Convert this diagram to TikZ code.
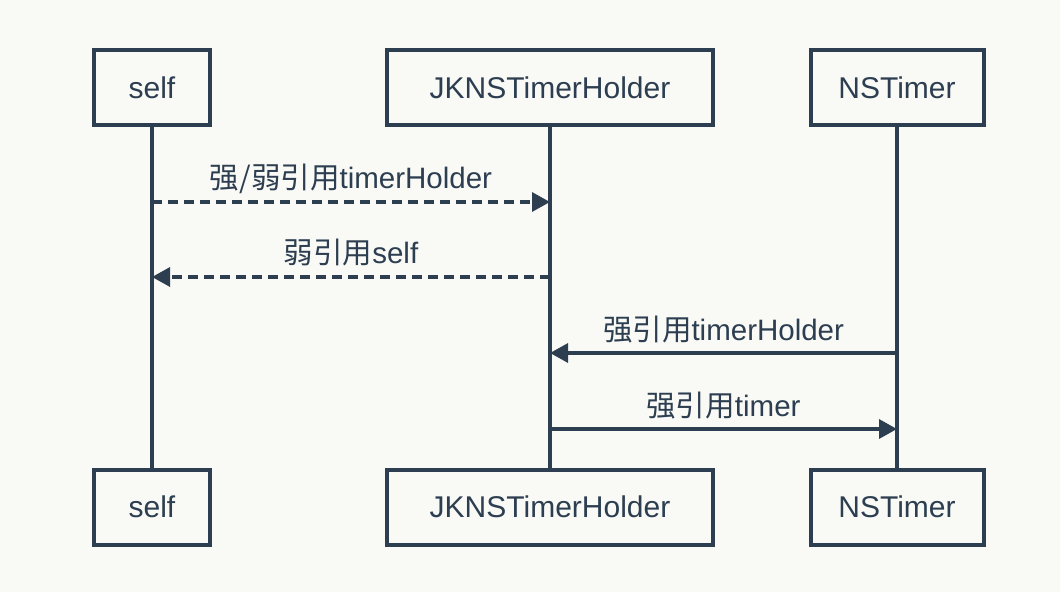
\documentclass[tikz,border=0pt]{standalone}
\usepackage{fontspec}
\setmainfont{Liberation Sans}
\newfontfamily\cjk{Noto Sans CJK SC}
\usetikzlibrary{arrows.meta}
\definecolor{ink}{RGB}{44,62,80}
\definecolor{paper}{RGB}{249,249,246}
\tikzset{
  actor/.style={draw=ink,line width=4bp,text=ink,minimum height=75bp,inner sep=0pt,
    font=\fontsize{30bp}{35bp}\selectfont},
  life/.style={draw=ink,line width=3.2bp},
  msg/.style={draw=ink,line width=3.2bp,-{Triangle[length=18bp,width=19bp]}},
  weak/.style={msg,dash pattern=on 10bp off 6bp},
  msglabel/.style={anchor=base,yshift=13bp,text=ink,font=\fontsize{29.5bp}{34bp}\selectfont}
}
\begin{document}
\begin{tikzpicture}[x=1bp,y=1bp]
\fill[paper] (0,0) rectangle (1060,-592);
\useasboundingbox (0,0) rectangle (1060,-592);
% actors, top and bottom
\foreach \n/\t/\x/\w in {self/self/152/116,holder/JKNSTimerHolder/550/326,timer/NSTimer/897/173}{
  \node[actor,minimum width=\w bp] (\n T) at (\x,-88) {\t};
  \node[actor,minimum width=\w bp] (\n B) at (\x,-507) {\t};
  \draw[life] (\n T.south)--(\n B.north);
}
\path (selfT |- 0,-202) coordinate (a1) (holderT |- 0,-202) coordinate (b1)
  (selfT |- 0,-277) coordinate (a2) (holderT |- 0,-277) coordinate (b2)
  (holderT |- 0,-353) coordinate (b3) (timerT |- 0,-353) coordinate (c3)
  (holderT |- 0,-429) coordinate (b4) (timerT |- 0,-429) coordinate (c4);
\draw[weak] (a1)--(b1) node[midway,msglabel]{{\cjk 强/弱引用}timerHolder};
\draw[weak] (b2)--(a2) node[midway,msglabel]{{\cjk 弱引用}self};
\draw[msg] (c3)--(b3) node[midway,msglabel]{{\cjk 强引用}timerHolder};
\draw[msg] (b4)--(c4) node[midway,msglabel]{{\cjk 强引用}timer};
\end{tikzpicture}
\end{document}
